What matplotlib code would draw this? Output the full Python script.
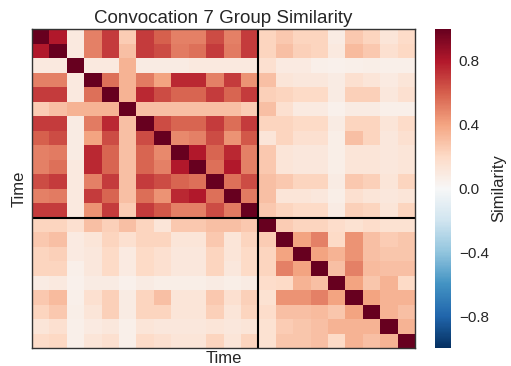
import numpy as np
import matplotlib
matplotlib.use("Agg")
import matplotlib.pyplot as plt

plt.rcParams["font.family"] = ["Liberation Sans", "DejaVu Sans"]

# ─── data: 22 time points, two groups (13 + 9) ─────────────────────
GROUP_SIZES = [13, 9]

# group 1 block
BLOCK_A = [
    [1.00, 0.80, 0.10, 0.50, 0.70, 0.25, 0.70, 0.60, 0.50, 0.50, 0.65, 0.50, 0.70],
    [0.80, 1.00, 0.10, 0.50, 0.70, 0.30, 0.70, 0.65, 0.52, 0.55, 0.70, 0.52, 0.70],
    [0.10, 0.10, 1.00, 0.10, 0.10, 0.35, 0.08, 0.08, 0.08, 0.10, 0.10, 0.10, 0.10],
    [0.50, 0.50, 0.10, 1.00, 0.55, 0.35, 0.52, 0.40, 0.75, 0.75, 0.50, 0.70, 0.45],
    [0.70, 0.70, 0.10, 0.55, 1.00, 0.35, 0.75, 0.65, 0.58, 0.58, 0.70, 0.58, 0.70],
    [0.25, 0.30, 0.35, 0.35, 0.35, 1.00, 0.30, 0.30, 0.30, 0.30, 0.30, 0.30, 0.25],
    [0.70, 0.70, 0.08, 0.52, 0.75, 0.30, 1.00, 0.65, 0.58, 0.58, 0.70, 0.56, 0.70],
    [0.60, 0.65, 0.08, 0.40, 0.65, 0.30, 0.65, 1.00, 0.48, 0.50, 0.65, 0.45, 0.62],
    [0.50, 0.52, 0.08, 0.75, 0.58, 0.30, 0.58, 0.48, 1.00, 0.80, 0.58, 0.75, 0.50],
    [0.50, 0.55, 0.10, 0.75, 0.58, 0.30, 0.58, 0.50, 0.80, 1.00, 0.55, 0.80, 0.50],
    [0.65, 0.70, 0.10, 0.50, 0.70, 0.30, 0.70, 0.65, 0.58, 0.55, 1.00, 0.55, 0.65],
    [0.50, 0.52, 0.10, 0.70, 0.58, 0.30, 0.56, 0.45, 0.75, 0.80, 0.55, 1.00, 0.52],
    [0.70, 0.70, 0.10, 0.45, 0.70, 0.25, 0.70, 0.62, 0.50, 0.50, 0.65, 0.52, 1.00],
]

# cross-group block: rows = group 1 (13), cols = group 2 (9)
BLOCK_AB = [
    [0.22, 0.27, 0.22, 0.22, 0.08, 0.27, 0.22, 0.13, 0.19],
    [0.22, 0.30, 0.24, 0.22, 0.10, 0.32, 0.27, 0.16, 0.21],
    [0.16, 0.09, 0.09, 0.06, 0.05, 0.06, 0.07, 0.06, 0.06],
    [0.30, 0.13, 0.11, 0.11, 0.08, 0.16, 0.13, 0.09, 0.13],
    [0.24, 0.22, 0.20, 0.20, 0.08, 0.24, 0.24, 0.11, 0.16],
    [0.30, 0.16, 0.09, 0.09, 0.05, 0.08, 0.08, 0.06, 0.06],
    [0.22, 0.22, 0.20, 0.20, 0.08, 0.22, 0.22, 0.13, 0.19],
    [0.13, 0.22, 0.16, 0.16, 0.07, 0.30, 0.22, 0.11, 0.16],
    [0.27, 0.13, 0.11, 0.11, 0.07, 0.13, 0.13, 0.11, 0.13],
    [0.27, 0.13, 0.11, 0.11, 0.07, 0.13, 0.13, 0.11, 0.13],
    [0.30, 0.27, 0.22, 0.22, 0.08, 0.27, 0.24, 0.13, 0.22],
    [0.30, 0.13, 0.13, 0.11, 0.07, 0.16, 0.13, 0.11, 0.13],
    [0.27, 0.22, 0.20, 0.20, 0.08, 0.24, 0.22, 0.13, 0.22],
]

# group 2 block
BLOCK_B = [
    [1.00, 0.25, 0.22, 0.22, 0.18, 0.15, 0.18, 0.15, 0.15],
    [0.25, 1.00, 0.40, 0.50, 0.20, 0.45, 0.30, 0.25, 0.28],
    [0.22, 0.40, 1.00, 0.40, 0.35, 0.45, 0.30, 0.28, 0.28],
    [0.22, 0.50, 0.40, 1.00, 0.30, 0.50, 0.32, 0.30, 0.30],
    [0.18, 0.20, 0.35, 0.30, 1.00, 0.40, 0.28, 0.35, 0.20],
    [0.15, 0.45, 0.45, 0.50, 0.40, 1.00, 0.40, 0.35, 0.35],
    [0.18, 0.30, 0.30, 0.32, 0.28, 0.40, 1.00, 0.35, 0.30],
    [0.15, 0.25, 0.28, 0.30, 0.35, 0.35, 0.35, 1.00, 0.35],
    [0.15, 0.28, 0.28, 0.30, 0.20, 0.35, 0.30, 0.35, 1.00],
]

CBAR_TICKS = [-0.8, -0.4, 0.0, 0.4, 0.8]


def build_matrix():
    a = np.array(BLOCK_A)
    ab = np.array(BLOCK_AB)
    b = np.array(BLOCK_B)
    return np.block([[a, ab], [ab.T, b]])


sim = build_matrix()
n = sim.shape[0]

W, H = 511, 366
fig = plt.figure(figsize=(W / 100, H / 100), dpi=100)
ax = fig.add_axes([32 / W, 1 - 348 / H, 383 / W, 319 / H])
cax = fig.add_axes([435 / W, 1 - 348 / H, 15.5 / W, 319 / H])

mesh = ax.pcolormesh(sim, cmap="RdBu_r", vmin=-1, vmax=1)
ax.set_xlim(0, n)
ax.set_ylim(n, 0)
ax.set_xticks([])
ax.set_yticks([])
for sp in ax.spines.values():
    sp.set_color("#333333")
    sp.set_linewidth(1.0)

# group boundaries
edge = GROUP_SIZES[0]
ax.axvline(edge, color="black", lw=1.5)
ax.axhline(edge, color="black", lw=1.5)

ax.set_title("Convocation 7 Group Similarity", fontsize=13.5, color="#262626", pad=4)
ax.set_xlabel("Time", fontsize=12, color="#262626", labelpad=2)
ax.set_ylabel("Time", fontsize=12, color="#262626", labelpad=4)

cb = fig.colorbar(mesh, cax=cax, ticks=CBAR_TICKS)
cb.outline.set_visible(False)
cb.ax.tick_params(length=0, labelsize=11, pad=6, colors="#262626")
cb.ax.set_yticklabels([f"{t:.1f}".replace("-", "\u2212") for t in CBAR_TICKS])
cb.set_label("Similarity", fontsize=12, color="#262626", labelpad=2)

fig.savefig("out.png", dpi=100, facecolor="white")
